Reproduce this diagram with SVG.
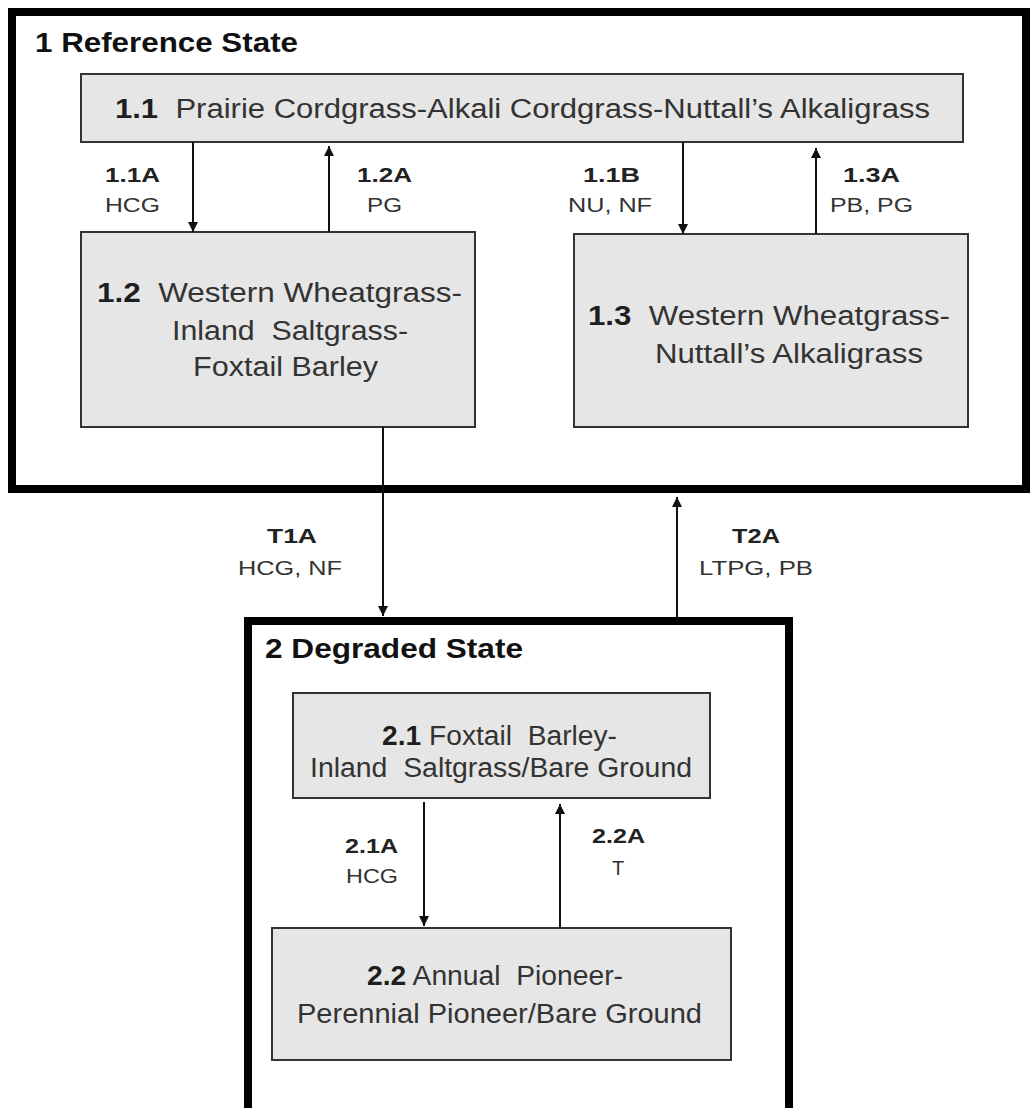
<svg xmlns="http://www.w3.org/2000/svg" width="1030" height="1108" viewBox="0 0 1030 1108">
<defs>
<marker id="ah" viewBox="0 0 10 10" refX="10" refY="5" markerWidth="10" markerHeight="10" markerUnits="userSpaceOnUse" orient="auto">
<path d="M0,0 L10,5 L0,10 z" fill="#111"/>
</marker>
<style>
.state{fill:#fff;stroke:#000;stroke-width:8}
.box{fill:#e6e6e6;stroke:#333;stroke-width:2}
text{font-family:"Liberation Sans",Arial,sans-serif}
.t{font-size:27px;fill:#333}
.h{font-size:28px;font-weight:bold;fill:#111}
.n{font-weight:bold;fill:#1e1e1e}
.lb{font-size:21px;font-weight:bold;fill:#222}
.ln{font-size:20px;fill:#333}
.c{stroke:#111;stroke-width:2;fill:none;marker-end:url(#ah)}
</style>
</defs>
<rect width="1030" height="1108" fill="#fff"/>
<g id="state1">
<rect class="state" x="12" y="12" width="1014" height="477"/>
<text class="h" x="35" y="52" textLength="263" lengthAdjust="spacingAndGlyphs">1 Reference State</text>
</g>
<g id="state2">
<rect class="state" x="248" y="621" width="541" height="500"/>
<text class="h" x="265" y="658" textLength="258" lengthAdjust="spacingAndGlyphs">2 Degraded State</text>
</g>
<g id="n11">
<rect class="box" x="81" y="74" width="882" height="68"/>
<text class="t" xml:space="preserve" x="115" y="118" textLength="815" lengthAdjust="spacingAndGlyphs"><tspan class="n">1.1</tspan>  Prairie Cordgrass-Alkali Cordgrass-Nuttall’s Alkaligrass</text>
</g>
<g id="n12">
<rect class="box" x="81" y="232" width="394" height="195"/>
<text class="t" xml:space="preserve" x="97" y="302" textLength="365" lengthAdjust="spacingAndGlyphs"><tspan class="n">1.2</tspan>  Western Wheatgrass-</text>
<text class="t" xml:space="preserve" x="172" y="340" textLength="236" lengthAdjust="spacingAndGlyphs">Inland  Saltgrass-</text>
<text class="t" x="193" y="376" textLength="185" lengthAdjust="spacingAndGlyphs">Foxtail Barley</text>
</g>
<g id="n13">
<rect class="box" x="574" y="234" width="394" height="193"/>
<text class="t" xml:space="preserve" x="588" y="325" textLength="362" lengthAdjust="spacingAndGlyphs"><tspan class="n">1.3</tspan>  Western Wheatgrass-</text>
<text class="t" x="655" y="363" textLength="268" lengthAdjust="spacingAndGlyphs">Nuttall’s Alkaligrass</text>
</g>
<g id="n21">
<rect class="box" x="293" y="693" width="417" height="105"/>
<text class="t" xml:space="preserve" x="382" y="745" textLength="235" lengthAdjust="spacingAndGlyphs"><tspan class="n">2.1</tspan> Foxtail  Barley-</text>
<text class="t" xml:space="preserve" x="310" y="777" textLength="382" lengthAdjust="spacingAndGlyphs">Inland  Saltgrass/Bare Ground</text>
</g>
<g id="n22">
<rect class="box" x="272" y="928" width="459" height="132"/>
<text class="t" xml:space="preserve" x="367" y="985" textLength="256" lengthAdjust="spacingAndGlyphs"><tspan class="n">2.2</tspan> Annual  Pioneer-</text>
<text class="t" x="297" y="1023" textLength="405" lengthAdjust="spacingAndGlyphs">Perennial Pioneer/Bare Ground</text>
</g>
<g id="connectors">
<line class="c" x1="193" y1="142" x2="193" y2="232"/>
<line class="c" x1="329" y1="232" x2="329" y2="146"/>
<line class="c" x1="683" y1="142" x2="683" y2="234"/>
<line class="c" x1="816" y1="234" x2="816" y2="148"/>
<line class="c" x1="383" y1="427" x2="383" y2="616"/>
<line class="c" x1="677" y1="617" x2="677" y2="497"/>
<line class="c" x1="424" y1="802" x2="424" y2="926"/>
<line class="c" x1="560" y1="928" x2="560" y2="804"/>
</g>
<g id="labels">
<text class="lb" x="105" y="182" textLength="55" lengthAdjust="spacingAndGlyphs">1.1A</text>
<text class="ln" x="105" y="212" textLength="55" lengthAdjust="spacingAndGlyphs">HCG</text>
<text class="lb" x="357" y="182" textLength="55" lengthAdjust="spacingAndGlyphs">1.2A</text>
<text class="ln" x="367" y="212" textLength="35" lengthAdjust="spacingAndGlyphs">PG</text>
<text class="lb" x="583" y="182" textLength="57" lengthAdjust="spacingAndGlyphs">1.1B</text>
<text class="ln" x="568" y="212" textLength="84" lengthAdjust="spacingAndGlyphs">NU, NF</text>
<text class="lb" x="843" y="182" textLength="57" lengthAdjust="spacingAndGlyphs">1.3A</text>
<text class="ln" x="830" y="212" textLength="83" lengthAdjust="spacingAndGlyphs">PB, PG</text>
<text class="lb" x="267" y="543" textLength="50" lengthAdjust="spacingAndGlyphs">T1A</text>
<text class="ln" x="238" y="575" textLength="104" lengthAdjust="spacingAndGlyphs">HCG, NF</text>
<text class="lb" x="732" y="543" textLength="48" lengthAdjust="spacingAndGlyphs">T2A</text>
<text class="ln" x="699" y="575" textLength="114" lengthAdjust="spacingAndGlyphs">LTPG, PB</text>
<text class="lb" x="345" y="853" textLength="53" lengthAdjust="spacingAndGlyphs">2.1A</text>
<text class="ln" x="346" y="883" textLength="52" lengthAdjust="spacingAndGlyphs">HCG</text>
<text class="lb" x="592" y="843" textLength="53" lengthAdjust="spacingAndGlyphs">2.2A</text>
<text class="ln" x="612" y="875">T</text>
</g>
</svg>
